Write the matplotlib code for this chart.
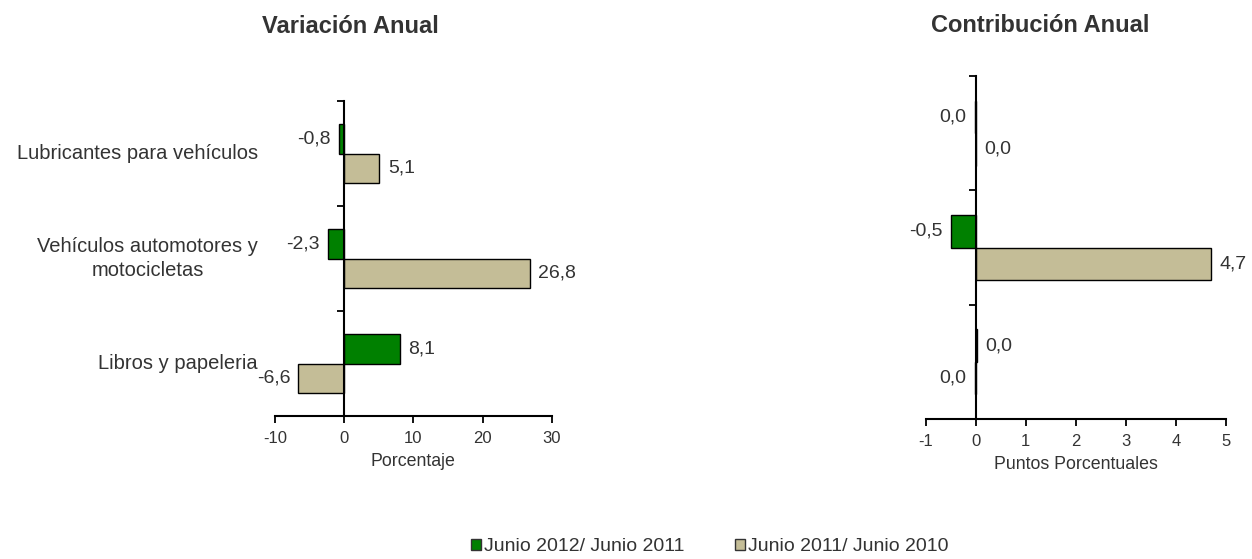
import numpy as np
import matplotlib
matplotlib.use('Agg')
import matplotlib.pyplot as plt
from matplotlib.patches import Patch
import matplotlib.transforms as mtransforms

plt.rcParams['font.family'] = ['Liberation Sans', 'DejaVu Sans']

categories = ['Lubricantes para vehículos', 'Vehículos automotores y\nmotocicletas', 'Libros y papeleria']
series_names = ['Junio 2012/ Junio 2011', 'Junio 2011/ Junio 2010']

# Variación anual (%)
var_2012 = [-0.8, -2.3, 8.1]
var_2011 = [5.1, 26.8, -6.6]

# Contribución anual (puntos porcentuales)
con_2012 = [-0.02, -0.5, 0.02]
con_2011 = [0.01, 4.7, -0.02]

green = '#008000'
tan = '#C4BD97'
txt = '#333333'

fig = plt.figure(figsize=(12.52, 5.59), dpi=100)
ax1 = fig.add_axes([0.2196, 0.2558, 0.2212, 0.5635])
ax2 = fig.add_axes([0.7394, 0.2504, 0.2399, 0.6136])


def draw(ax, a, b, xlim, xticks, xlabel, off):
    y = np.arange(len(a))
    h = 0.285
    ax.barh(y - h / 2, a, h, color=green, edgecolor='black', linewidth=1)
    ax.barh(y + h / 2, b, h, color=tan, edgecolor='black', linewidth=1)
    for vals, yy in ((a, y - h / 2), (b, y + h / 2)):
        for v, yi in zip(vals, yy):
            lab = f'{v:.1f}'.replace('.', ',')
            if lab == '-0,0':
                lab = '0,0'
            ax.annotate(lab, (v, yi), xytext=(off if v >= 0 else -off, 0),
                        textcoords='offset points', va='center',
                        ha='left' if v >= 0 else 'right', fontsize=14, color=txt)
    ax.set_xlim(*xlim)
    ax.set_ylim(len(a) - 0.5, -0.5)
    ax.set_xticks(xticks)
    ax.set_xticklabels([str(t) for t in xticks])
    ax.set_yticks(np.arange(len(a) + 1) - 0.5)
    ax.set_yticklabels([])
    ax.spines['left'].set_position(('data', 0))
    ax.spines['top'].set_visible(False)
    ax.spines['right'].set_visible(False)
    ax.spines['left'].set_linewidth(1.5)
    ax.spines['bottom'].set_linewidth(1.5)
    ax.tick_params(axis='x', direction='out', length=5, width=1.3, labelsize=12,
                   labelcolor=txt, pad=6)
    ax.tick_params(axis='y', direction='out', length=5, width=1.3)
    ax.set_xlabel(xlabel, fontsize=12.8, color=txt, labelpad=5)


draw(ax1, var_2012, var_2011, (-10, 30), [-10, 0, 10, 20, 30], 'Porcentaje', 6)
draw(ax2, con_2012, con_2011, (-1, 5), [-1, 0, 1, 2, 3, 4, 5], 'Puntos Porcentuales', 6)

# category labels on the left chart
trans = mtransforms.blended_transform_factory(ax1.transAxes, ax1.transData)
for i, c in enumerate(categories):
    ax1.text(-0.061, i, c, transform=trans, ha='right', va='center',
             multialignment='center', fontsize=14.5, color=txt, linespacing=1.3)

fig.text(0.28, 0.952, 'Variación Anual', ha='center', va='center', fontsize=17,
         fontweight='bold', color=txt)
fig.text(0.831, 0.955, 'Contribución Anual', ha='center', va='center', fontsize=17,
         fontweight='bold', color=txt)

handles = [Patch(facecolor=green, edgecolor='#333333'), Patch(facecolor=tan, edgecolor='#333333')]
fig.legend(handles, series_names, loc='center', bbox_to_anchor=(0.567, 0.022), ncol=2,
           frameon=False, fontsize=14, handlelength=0.5, handleheight=0.5,
           handletextpad=0.15, columnspacing=2.6, labelcolor=txt)

fig.savefig('out.png', dpi=100)
